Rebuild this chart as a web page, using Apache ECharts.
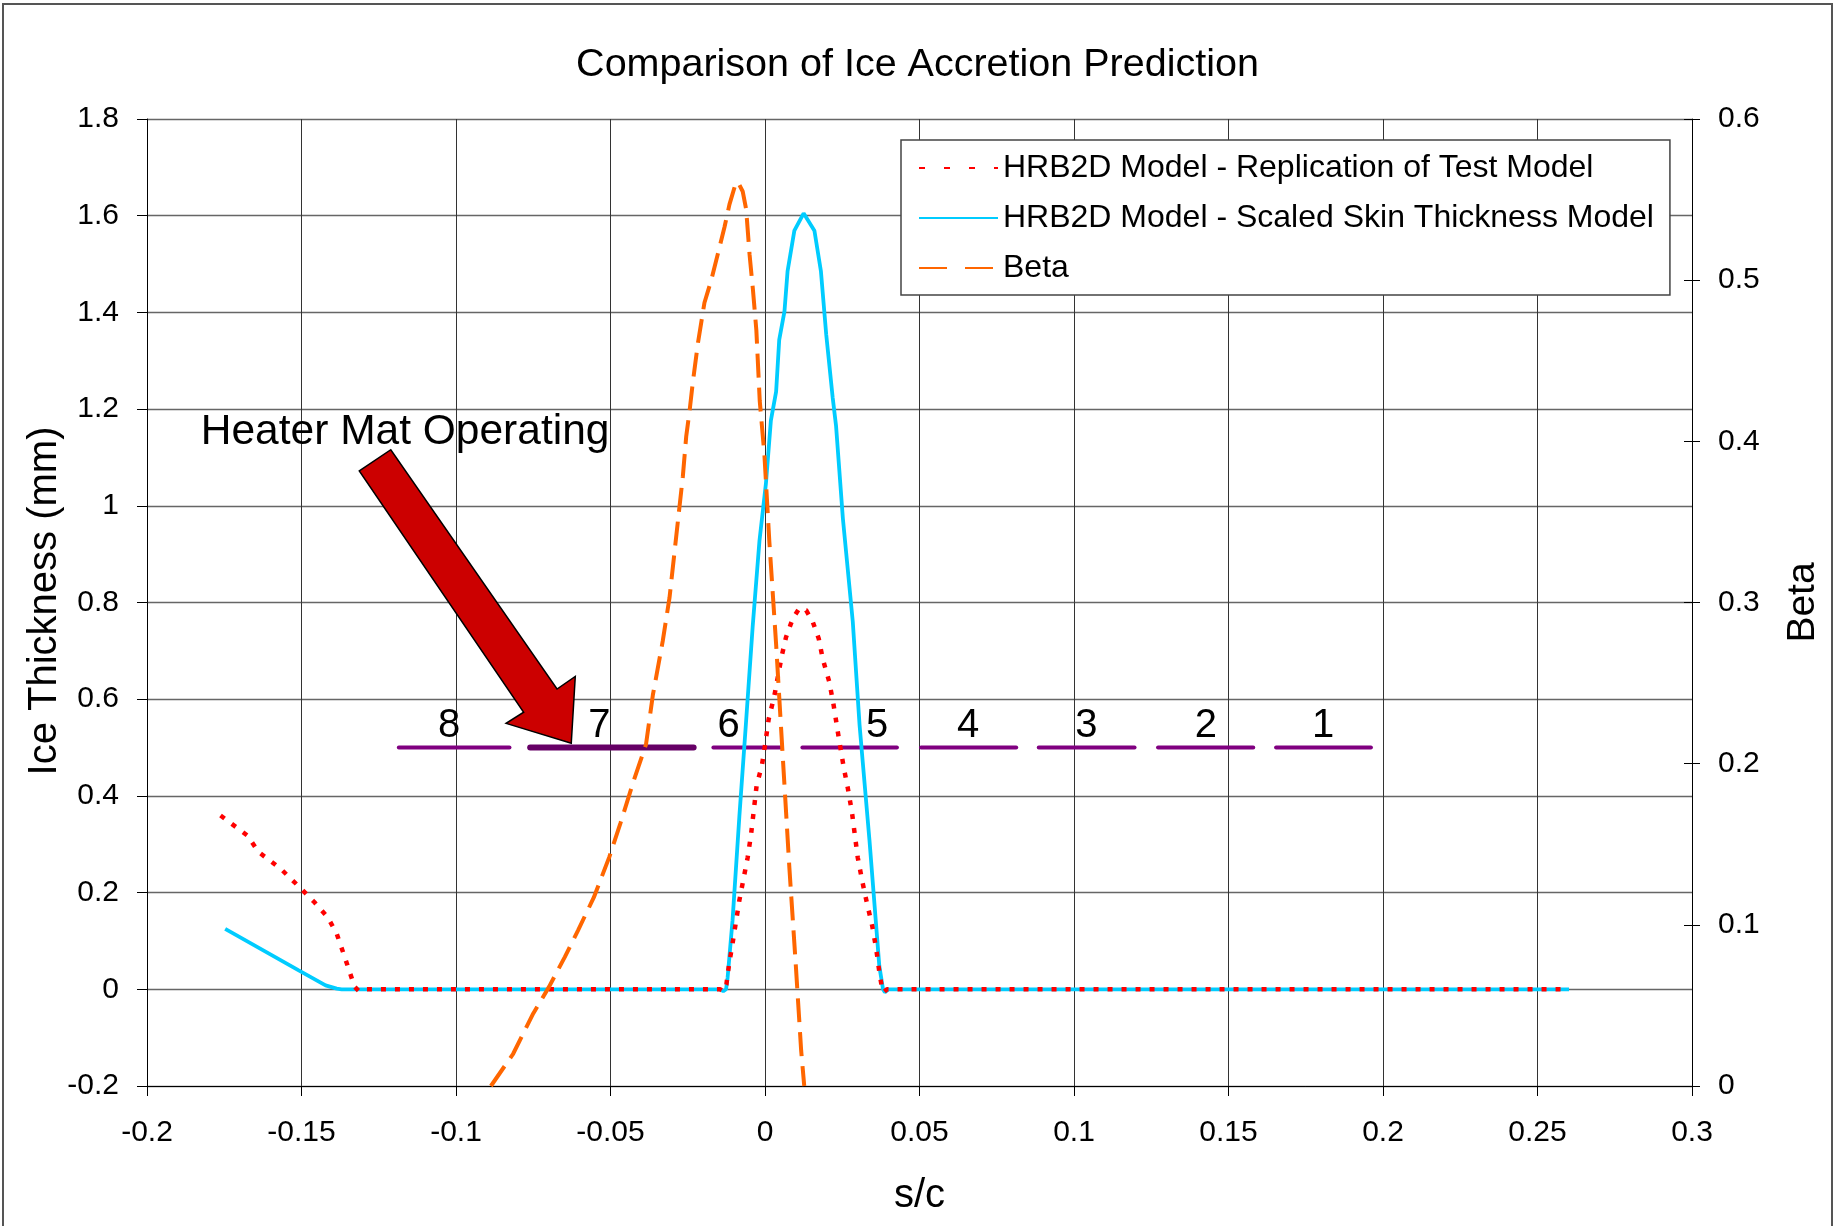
<!DOCTYPE html>
<html>
<head>
<meta charset="utf-8">
<script src="https://cdn.jsdelivr.net/npm/echarts@6/dist/echarts.min.js"></script>
<style>
  html, body { margin: 0; padding: 0; background: #fff; }
  #chart { width: 1835px; height: 1226px; }
</style>
</head>
<body>
<div id="chart"></div>
<script>
// ice thickness (mm) vs s/c - replication of the test model
const replicationData = [
  [-0.1762, 0.3595], [-0.1675, 0.318], [-0.1639, 0.284], [-0.1567, 0.249],
  [-0.1501, 0.208], [-0.1458, 0.180], [-0.1415, 0.149], [-0.1386, 0.115],
  [-0.1364, 0.074], [-0.1342, 0.032], [-0.1328, 0.005], [-0.1314, -0.004],
  [-0.129, 0], [-0.0145, 0], [-0.0135, -0.004], [-0.0125, 0.01],
  [-0.0116, 0.053], [-0.0105, 0.095], [-0.0083, 0.184], [-0.0056, 0.273],
  [-0.0045, 0.321], [-0.0027, 0.422], [-0.001, 0.463], [0.0001, 0.509],
  [0.0012, 0.559], [0.003, 0.606], [0.0041, 0.644], [0.0054, 0.689],
  [0.0068, 0.728], [0.009, 0.767], [0.0111, 0.788], [0.0133, 0.784],
  [0.0154, 0.761], [0.0174, 0.725], [0.0187, 0.683], [0.0208, 0.636],
  [0.0222, 0.588], [0.0241, 0.511], [0.0255, 0.458], [0.0268, 0.416],
  [0.0281, 0.368], [0.03, 0.273], [0.0314, 0.226], [0.0329, 0.181],
  [0.0347, 0.131], [0.036, 0.083], [0.037, 0.036], [0.0378, 0.005],
  [0.0384, -0.006], [0.0395, 0], [0.2602, 0]
];

// ice thickness (mm) vs s/c - scaled skin thickness model
const scaledSkinData = [
  [-0.1747, 0.125], [-0.1509, 0.039], [-0.1451, 0.0186], [-0.1422, 0.008],
  [-0.1386, 0.0014], [-0.137, 0], [-0.0145, 0], [-0.0135, -0.004],
  [-0.0126, 0], [-0.0121, 0.024], [-0.0105, 0.143], [-0.0083, 0.357],
  [-0.0062, 0.547], [-0.004, 0.749], [-0.0018, 0.927], [0.0003, 1.046],
  [0.0019, 1.176], [0.0036, 1.236], [0.0046, 1.343], [0.0063, 1.402],
  [0.0073, 1.485], [0.0095, 1.569], [0.0125, 1.605], [0.016, 1.569],
  [0.0181, 1.485], [0.0198, 1.355], [0.0219, 1.224], [0.023, 1.165],
  [0.0252, 0.974], [0.0284, 0.761], [0.0306, 0.547], [0.0338, 0.309],
  [0.037, 0.048], [0.0382, 0], [0.0388, -0.006], [0.04, 0], [0.2602, 0]
];

// collection efficiency (right axis)
const betaData = [
  [-0.0887, 0], [-0.0815, 0.020], [-0.075, 0.045], [-0.0699, 0.0615],
  [-0.0648, 0.080], [-0.0605, 0.0966], [-0.0554, 0.117], [-0.0504, 0.142],
  [-0.0468, 0.163], [-0.0424, 0.19], [-0.0385, 0.212], [-0.0363, 0.2425],
  [-0.0331, 0.276], [-0.0309, 0.303], [-0.0293, 0.331], [-0.0277, 0.359],
  [-0.0266, 0.378], [-0.0255, 0.403], [-0.0244, 0.419], [-0.0234, 0.436],
  [-0.0217, 0.461], [-0.0196, 0.486], [-0.0174, 0.500], [-0.0153, 0.516],
  [-0.0131, 0.533], [-0.0115, 0.547], [-0.0098, 0.558], [-0.0088, 0.561],
  [-0.0072, 0.555], [-0.0061, 0.544], [-0.005, 0.516], [-0.0039, 0.494],
  [-0.0028, 0.469], [-0.0017, 0.425], [-0.0002, 0.392], [0.0014, 0.338],
  [0.0036, 0.274], [0.0057, 0.206], [0.0079, 0.135], [0.01, 0.074],
  [0.0117, 0.022], [0.0127, 0]
];

// heater mats, drawn at ice thickness 0.5
const matLabels = ['8', '7', '6', '5', '4', '3', '2', '1'];
const matStart = [-0.1185, -0.076, -0.0167, 0.0121, 0.0505, 0.0886, 0.1272, 0.1654];
const matEnd = [-0.0827, -0.0231, 0.0052, 0.0427, 0.0813, 0.1196, 0.158, 0.1961];
const matLabelX = [-0.1022, -0.0536, -0.0118, 0.0363, 0.0657, 0.104, 0.1427, 0.1806];
const matOn = [0, 1, 0, 0, 0, 0, 0, 0];
const matLevel = 0.5;
const matLabelLevel = 0.545;

// annotation arrow (s/c, ice thickness)
const arrowPath = [
  [-0.1313, 1.072], [-0.1211, 1.116], [-0.0673, 0.621], [-0.0614, 0.647],
  [-0.0627, 0.509], [-0.0838, 0.550], [-0.0781, 0.573]
];
const noteText = 'Heater Mat Operating';
const notePos = [-0.1826, 1.153];

const FONT = 'Liberation Sans, Arial, sans-serif';

const chart = echarts.init(document.getElementById('chart'), null, { renderer: 'canvas' });

function renderMat(params, api) {
  const i = params.dataIndex;
  const p0 = api.coord([api.value(0), matLevel]);
  const p1 = api.coord([api.value(1), matLevel]);
  const pl = api.coord([api.value(2), matLabelLevel]);
  const on = matOn[i] === 1;
  return {
    type: 'group',
    children: [
      {
        type: 'line',
        shape: { x1: p0[0], y1: p0[1], x2: p1[0], y2: p1[1] },
        style: { stroke: on ? '#660066' : '#800080', lineWidth: on ? 6 : 4, lineCap: 'round' }
      },
      {
        type: 'text',
        style: {
          text: matLabels[i], x: pl[0], y: pl[1], align: 'center', verticalAlign: 'middle',
          fontSize: 40, fontFamily: FONT, fill: '#000'
        }
      }
    ]
  };
}

function renderArrow(params, api) {
  const pts = arrowPath.map((p) => api.coord(p));
  const tp = api.coord(notePos);
  return {
    type: 'group',
    children: [
      {
        type: 'text',
        style: {
          text: noteText, x: tp[0], y: tp[1], align: 'left', verticalAlign: 'middle',
          fontSize: 42.5, fontFamily: FONT, fill: '#000'
        }
      },
      {
        type: 'polygon',
        shape: { points: pts },
        style: { fill: '#CC0000', stroke: '#000', lineWidth: 1.5 }
      }
    ]
  };
}

const tickLabel = { fontSize: 30, color: '#000', fontFamily: FONT };

chart.setOption({
  animation: false,
  backgroundColor: '#fff',
  textStyle: { fontFamily: FONT },
  graphic: [
    {
      type: 'rect',
      shape: { x: 3, y: 4, width: 1829, height: 1240 },
      style: { fill: 'none', stroke: '#555', lineWidth: 2 },
      z: 100
    },
    {
      // left axis title
      type: 'text',
      x: 45,
      y: 601,
      rotation: Math.PI / 2,
      style: {
        text: 'Ice Thickness (mm)', align: 'center', verticalAlign: 'middle',
        fontSize: 40, fontFamily: FONT, fill: '#000'
      }
    }
  ],
  title: {
    text: 'Comparison of Ice Accretion Prediction',
    left: 'center',
    top: 40,
    textStyle: { fontSize: 39.5, fontWeight: 'normal', color: '#000', fontFamily: FONT }
  },
  legend: {
    orient: 'vertical',
    left: 901,
    top: 140,
    padding: [12, 16, 11, 17],
    backgroundColor: '#fff',
    borderColor: '#444',
    borderWidth: 1.5,
    itemWidth: 79,
    itemHeight: 14,
    itemGap: 18,
    itemStyle: { opacity: 0 },
    textStyle: { fontSize: 32, color: '#000', fontFamily: FONT },
    data: [
      { name: 'HRB2D Model - Replication of Test Model', lineStyle: { type: [6, 19] } },
      { name: 'HRB2D Model - Scaled Skin Thickness Model' },
      { name: 'Beta', lineStyle: { type: [28, 18] } }
    ]
  },
  grid: { left: 147, right: 143, top: 119, bottom: 140 },
  xAxis: {
    type: 'value',
    min: -0.2,
    max: 0.3,
    interval: 0.05,
    name: 's/c',
    nameLocation: 'middle',
    nameGap: 90,
    nameTextStyle: { fontSize: 40, color: '#000', fontFamily: FONT },
    axisLine: { onZero: false, lineStyle: { color: '#000', width: 1 } },
    axisTick: { length: 10, lineStyle: { color: '#000' } },
    axisLabel: { ...tickLabel, margin: 32 },
    splitLine: { show: true, lineStyle: { color: '#333', width: 1 } }
  },
  yAxis: [
    {
      type: 'value',
      min: -0.2,
      max: 1.8,
      interval: 0.2,
      axisLine: { show: true, onZero: false, lineStyle: { color: '#000', width: 1 } },
      axisTick: { show: true, length: 10, lineStyle: { color: '#000' } },
      axisLabel: { ...tickLabel, margin: 28 },
      splitLine: { show: true, lineStyle: { color: '#666', width: 1.3 } }
    },
    {
      type: 'value',
      position: 'right',
      min: 0,
      max: 0.6,
      interval: 0.1,
      name: 'Beta',
      nameLocation: 'middle',
      nameRotate: 90,
      nameGap: 92,
      nameTextStyle: { fontSize: 39, color: '#000', fontFamily: FONT },
      axisLine: { show: true, onZero: false, lineStyle: { color: '#000', width: 1 } },
      axisTick: { show: true, length: 8, lineStyle: { color: '#000' } },
      axisLabel: { ...tickLabel, margin: 26 },
      splitLine: { show: false }
    },
    {
      // inner half of the cross ticks on the Beta axis
      type: 'value',
      position: 'right',
      min: 0,
      max: 0.6,
      interval: 0.1,
      axisLine: { show: false, onZero: false },
      axisTick: { show: true, inside: true, length: 8, lineStyle: { color: '#000' } },
      axisLabel: { show: false },
      splitLine: { show: false }
    }
  ],
  series: [
    {
      name: 'mats',
      type: 'custom',
      renderItem: renderMat,
      xAxisIndex: 0,
      yAxisIndex: 0,
      data: matStart.map((s, i) => [s, matEnd[i], matLabelX[i]]),
      encode: { x: [0, 1, 2], y: [] },
      z: 1,
      silent: true
    },
    {
      name: 'HRB2D Model - Replication of Test Model',
      type: 'line',
      yAxisIndex: 0,
      data: replicationData,
      showSymbol: false,
      symbol: 'none',
      color: '#FF0000',
      lineStyle: { color: '#FF0000', width: 4.5, type: [5, 9] },
      z: 3
    },
    {
      name: 'HRB2D Model - Scaled Skin Thickness Model',
      type: 'line',
      yAxisIndex: 0,
      data: scaledSkinData,
      showSymbol: false,
      symbol: 'none',
      color: '#00CCFF',
      lineStyle: { color: '#00CCFF', width: 3.8 },
      z: 2
    },
    {
      name: 'Beta',
      type: 'line',
      yAxisIndex: 1,
      data: betaData,
      showSymbol: false,
      symbol: 'none',
      color: '#FF6600',
      lineStyle: { color: '#FF6600', width: 4, type: [24, 10] },
      z: 4
    },
    {
      name: 'note',
      type: 'custom',
      renderItem: renderArrow,
      xAxisIndex: 0,
      yAxisIndex: 0,
      data: [notePos],
      z: 5,
      silent: true
    }
  ]
});
</script>
</body>
</html>
